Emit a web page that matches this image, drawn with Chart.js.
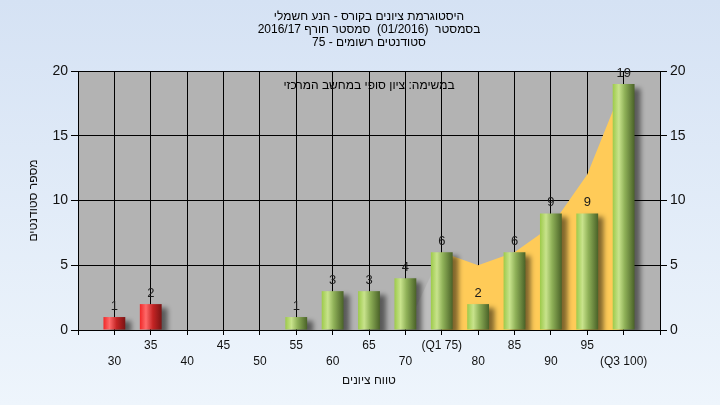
<!DOCTYPE html>
<html>
<head>
<meta charset="utf-8">
<script src="https://cdn.jsdelivr.net/npm/chart.js@4/dist/chart.umd.min.js"></script>
<style>
  html, body { margin: 0; padding: 0; }
  body { width: 720px; height: 405px; background: linear-gradient(#d5e2f4, #eef5fc); overflow: hidden; }
</style>
</head>
<body>
<canvas id="histo" width="720" height="405"></canvas>
<script>
// ---- texts ----
const TITLE_LINES = [
  "היסטוגרמת ציונים בקורס - הנע חשמלי",
  "בסמסטר  (01/2016)  סמסטר חורף 2016/17",
  "סטודנטים רשומים - 75"
];
const NOTE_TEXT = "במשימה: ציון סופי במחשב המרכזי";
const X_TITLE = "טווח ציונים";
const Y_TITLE = "מספר סטודנטים";

// ---- data ----
const GRADES = [30, 35, 40, 45, 50, 55, 60, 65, 70, 75, 80, 85, 90, 95, 100];
const GRADE_LABELS = ["30", "35", "40", "45", "50", "55", "60", "65", "70", "(Q1 75)", "80", "85", "90", "95", "(Q3 100)"];
const COUNTS = [1, 2, 0, 0, 0, 1, 3, 3, 4, 6, 2, 6, 9, 9, 19];
const PASS_GRADE = 55;

// shaded spread behind the bars (below Q1 / between Q1 and Q3)
const LOW_SPREAD_X = [70, 75];
const LOW_SPREAD_Y = [0, 6];
const MID_SPREAD_X = [75, 80, 85, 90, 95, 100];
const MID_SPREAD_Y = [6, 5, 6, 8, 12, 19];

const Y_MIN = 0, Y_MAX = 20, Y_STEP = 5;
const X_MIN = 25, X_MAX = 105, X_STEP = 5;

// ---- colours ----
const GREEN_STOPS = [[0, "#9dca4a"], [0.28, "#c8e38c"], [0.55, "#8fb158"], [1, "#4a6228"]];
const RED_STOPS = [[0, "#f02828"], [0.28, "#ff6a6a"], [0.6, "#c42424"], [1, "#7a1414"]];

Chart.defaults.font.family = "'Liberation Sans', Arial, sans-serif";
Chart.defaults.color = "#111";

function barFill(ctx) {
  const chart = ctx.chart;
  const xs = chart.scales.x;
  const g = GRADES[ctx.dataIndex];
  const stops = g < PASS_GRADE ? RED_STOPS : GREEN_STOPS;
  if (!xs || !chart.chartArea) return stops[0][1];
  const cx = xs.getPixelForValue(g);
  const half = (xs.getPixelForValue(g + X_STEP) - cx) * 0.3;
  const grad = chart.ctx.createLinearGradient(cx - half, 0, cx + half, 0);
  stops.forEach(s => grad.addColorStop(s[0], s[1]));
  return grad;
}

// plot background
const plotBack = {
  id: "plotBack",
  beforeDraw(chart) {
    const { ctx, chartArea: a } = chart;
    ctx.save();
    ctx.fillStyle = "#b3b3b3";
    ctx.fillRect(a.left, a.top, a.right - a.left, a.bottom - a.top);
    ctx.restore();
  }
};

// drop shadow under the bars
const barShadow = {
  id: "barShadow",
  beforeDatasetDraw(chart, args) {
    if (args.meta.type !== "bar") return;
    const c = chart.ctx;
    c.save();
    c.shadowColor = "rgba(0,0,0,0.5)";
    c.shadowBlur = 5;
    c.shadowOffsetX = 6;
    c.shadowOffsetY = 4;
  },
  afterDatasetDraw(chart, args) {
    if (args.meta.type !== "bar") return;
    chart.ctx.restore();
  }
};

// value over each bar + titles
const texts = {
  id: "texts",
  afterDatasetsDraw(chart) {
    const { ctx, chartArea: a } = chart;
    const meta = chart.getDatasetMeta(0);
    ctx.save();
    ctx.font = "13px 'Liberation Sans', Arial, sans-serif";
    ctx.fillStyle = "#1a1a1a";
    ctx.textAlign = "center";
    ctx.textBaseline = "middle";
    meta.data.forEach((el, i) => {
      if (!COUNTS[i]) return;
      ctx.fillText(String(COUNTS[i]), el.x, el.y - 11);
    });

    const cx = (a.left + a.right) / 2;
    ctx.direction = "rtl";
    ctx.font = "12px 'Liberation Sans', Arial, sans-serif";
    ctx.fillStyle = "#000";
    TITLE_LINES.forEach((t, i) => ctx.fillText(t, cx, a.top - 54 + i * 13));
    ctx.fillText(NOTE_TEXT, cx, a.top + 15);
    ctx.restore();
  }
};

const barData = GRADES.map((g, i) => ({ x: g, y: COUNTS[i] }));
const lowSpread = LOW_SPREAD_X.map((x, i) => ({ x, y: LOW_SPREAD_Y[i] }));
const midSpread = MID_SPREAD_X.map((x, i) => ({ x, y: MID_SPREAD_Y[i] }));

new Chart(document.getElementById("histo"), {
  type: "bar",
  data: {
    datasets: [
      {
        type: "bar",
        data: barData,
        backgroundColor: barFill,
        borderWidth: 0,
        categoryPercentage: 1,
        barPercentage: 0.6,
        order: 0
      },
      {
        type: "line",
        data: midSpread,
        backgroundColor: "#ffcb58",
        borderWidth: 0,
        pointRadius: 0,
        fill: "origin",
        order: 1
      },
      {
        type: "line",
        data: lowSpread,
        backgroundColor: "#bebebe",
        borderWidth: 0,
        pointRadius: 0,
        fill: "origin",
        order: 2
      }
    ]
  },
  options: {
    responsive: false,
    animation: false,
    layout: { padding: { top: 71 } },
    plugins: {
      legend: { display: false },
      tooltip: { enabled: false },
      title: { display: false }
    },
    scales: {
      x: {
        type: "linear",
        min: X_MIN,
        max: X_MAX,
        offset: false,
        afterFit: s => { s.height = 75; },
        grid: { offset: false, color: "#000", lineWidth: 1, tickLength: 5, tickColor: "#000" },
        border: { color: "#000" },
        ticks: {
          stepSize: X_STEP,
          autoSkip: false,
          maxRotation: 0,
          padding: 3,
          color: "#111",
          font: { size: 12, lineHeight: "16px" },
          callback: v => {
            const i = GRADES.indexOf(v);
            if (i < 0) return "";
            return i % 2 === 0 ? ["", GRADE_LABELS[i]] : [GRADE_LABELS[i]];
          }
        },
        title: {
          display: true,
          text: X_TITLE,
          color: "#111",
          font: { size: 12 },
          padding: { top: 4, bottom: 17 }
        }
      },
      y: {
        position: "left",
        min: Y_MIN,
        max: Y_MAX,
        afterFit: s => { s.width = 78; },
        grid: { color: "#000", lineWidth: 1, tickLength: 7, tickColor: "#000" },
        border: { color: "#000" },
        ticks: { stepSize: Y_STEP, padding: 3, color: "#111", font: { size: 14 } },
        title: {
          display: true,
          text: Y_TITLE,
          color: "#111",
          font: { size: 12 },
          padding: { top: 26, bottom: 0 }
        }
      },
      y2: {
        position: "right",
        min: Y_MIN,
        max: Y_MAX,
        afterFit: s => { s.width = 60; },
        grid: { drawOnChartArea: false, tickLength: 7, tickColor: "#000" },
        border: { color: "#000" },
        ticks: { stepSize: Y_STEP, padding: 3, color: "#111", font: { size: 14 } }
      }
    }
  },
  plugins: [plotBack, barShadow, texts]
});
</script>
</body>
</html>
